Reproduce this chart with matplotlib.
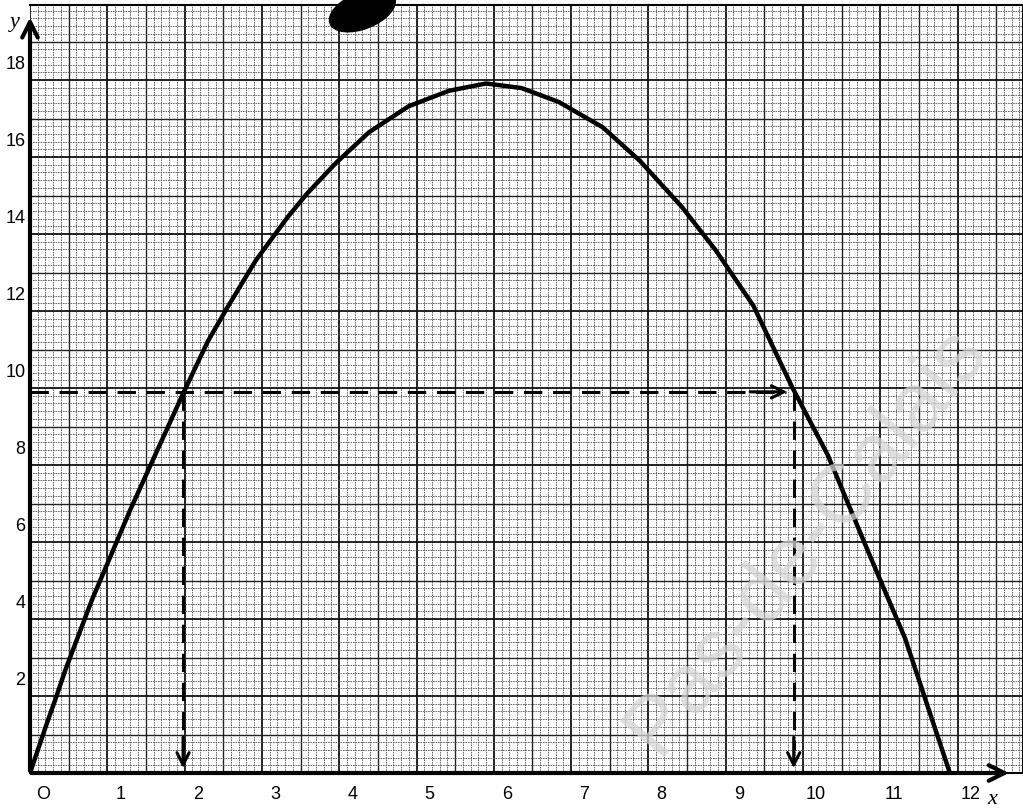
import numpy as np
import matplotlib.pyplot as plt
from matplotlib.patches import Ellipse

# curve
x_curve = [0.0, 0.22, 0.34, 0.46, 0.80, 1.30, 1.97, 2.30, 2.55, 2.92, 3.33, 3.58, 3.96,
           4.39, 4.90, 5.42, 5.90, 6.36, 6.84, 7.41, 7.89, 8.43, 8.87, 9.36, 9.86,
           10.32, 10.86, 11.32, 11.90]
y_curve = [0.0, 1.30, 1.98, 2.69, 4.49, 6.85, 9.81, 11.21, 12.08, 13.31, 14.43, 15.04, 15.85,
           16.65, 17.32, 17.72, 17.91, 17.79, 17.43, 16.77, 15.90, 14.71, 13.58, 12.13, 10.02,
           8.26, 5.67, 3.50, 0.0]

level = 9.9
x_left = 1.98
x_right = 9.88

x_ticks = list(range(0, 13))
x_tick_labels = ["O"] + [str(k) for k in range(1, 13)]
y_ticks = list(range(2, 19, 2))

W, H = 1023, 811
fig = plt.figure(figsize=(W / 100, H / 100), dpi=100)
px_x, px_y = 77.3, 38.5
x0 = 30
ax = fig.add_axes([x0 / W, (H - 773) / H, (W - x0) / W, 768 / H])
xmax = (W - x0) / px_x
ymax = 768 / px_y
ax.set_xlim(0, xmax)
ax.set_ylim(0, ymax)
ax.axis("off")

# graph paper: 1 mm, 5 mm and 1 cm lines
for i in range(0, int(xmax * 10) + 1):
    xv = i / 10
    if i % 10 == 0:
        ax.axvline(xv, color="#111111", lw=1.3, zorder=1)
    elif i % 5 == 0:
        ax.axvline(xv, color="#222222", lw=1.0, zorder=1)
    else:
        ax.axvline(xv, color="#555555", lw=0.6, ls=(0, (2, 1)), zorder=1)
for i in range(0, int(ymax * 5) + 1):
    yv = i / 5
    if i % 10 == 0:
        ax.axhline(yv, color="#111111", lw=1.3, zorder=1)
    elif i % 5 == 0:
        ax.axhline(yv, color="#222222", lw=1.0, zorder=1)
    else:
        ax.axhline(yv, color="#555555", lw=0.6, ls=(0, (2, 1)), zorder=1)
ax.plot([0, xmax, xmax, 0], [ymax, ymax, 0, 0], color="black", lw=1.5, clip_on=False)

# axes with arrows
ax.annotate("", xy=(12.7, 0), xytext=(-0.02, 0),
            arrowprops=dict(arrowstyle="->", lw=3, color="black", mutation_scale=28),
            annotation_clip=False, zorder=5)
ax.annotate("", xy=(0, 19.7), xytext=(0, -0.02),
            arrowprops=dict(arrowstyle="->", lw=3, color="black", mutation_scale=28),
            annotation_clip=False, zorder=5)

# the curve
ax.plot(x_curve, y_curve, color="black", lw=3.2, zorder=6, solid_capstyle="round",
        solid_joinstyle="round")

# dashed construction lines
dash = (0, (6, 3.5))
ax.plot([0, x_right - 0.1], [level, level], color="black", lw=2.2, ls=dash, zorder=6)
ax.annotate("", xy=(x_right - 0.05, level), xytext=(x_right - 0.6, level),
            arrowprops=dict(arrowstyle="->", lw=2.2, color="black", mutation_scale=22), zorder=6)
for xv in (x_left, x_right):
    ax.plot([xv, xv], [level, 0.6], color="black", lw=2.2, ls=dash, zorder=6)
    ax.annotate("", xy=(xv, 0.05), xytext=(xv, 1.0),
                arrowprops=dict(arrowstyle="->", lw=2.2, color="black", mutation_scale=22),
                zorder=6)

# tick labels
for xv, lab in zip(x_ticks, x_tick_labels):
    ax.text(xv + 0.17, -0.57, lab, ha="center", va="center", fontsize=13,
            family="Liberation Sans", clip_on=False)
for yv in y_ticks:
    ax.text(-0.06, yv + 0.4, str(yv), ha="right", va="center", fontsize=13,
            family="Liberation Sans", clip_on=False)
ax.text(-0.2, 19.5, "y", ha="center", va="center", fontsize=16, style="italic",
        family="Liberation Serif", clip_on=False)
ax.text(12.45, -0.7, "x", ha="center", va="center", fontsize=16, style="italic",
        family="Liberation Serif", clip_on=False)

# ink blob and watermark of the scan
ax.add_patch(Ellipse((4.3, 19.8), 0.7, 1.2, angle=-30, color="black", zorder=7, clip_on=False))
fig.text(805 / W, 1 - 540 / H, "Pas-de-Calais", rotation=51, fontsize=60,
         color="#d4d4d4", alpha=0.75, ha="center", va="center",
         family="Liberation Sans", zorder=10)

fig.savefig("out.png", dpi=100)
